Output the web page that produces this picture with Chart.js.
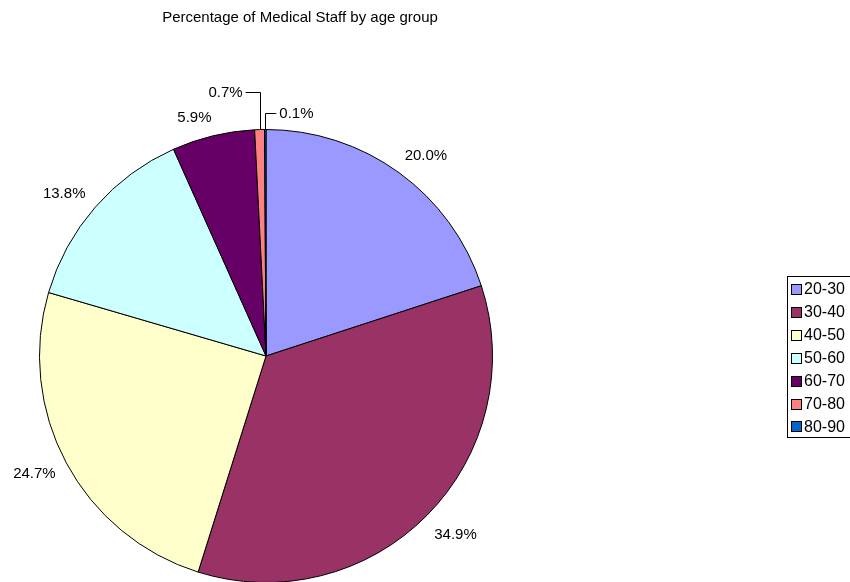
<!DOCTYPE html>
<html>
<head>
<meta charset="utf-8">
<script src="https://cdn.jsdelivr.net/npm/chart.js@4"></script>
<style>
  html, body { margin: 0; padding: 0; background: #fff; overflow: hidden; }
  #wrap { position: relative; width: 850px; height: 582px; overflow: hidden; }
  canvas { display: block; }
</style>
</head>
<body>
<div id="wrap"><canvas id="chart" width="850" height="620"></canvas></div>
<script>
// Age groups and their share of medical staff (percent)
const ageGroups = ['20-30', '30-40', '40-50', '50-60', '60-70', '70-80', '80-90'];
const staffShare = [20.0, 34.9, 24.7, 13.8, 5.9, 0.7, 0.1];
const sliceColors = ['#9999FF', '#993366', '#FFFFCC', '#CCFFFF', '#660066', '#FF8080', '#0066CC'];
const chartTitle = 'Percentage of Medical Staff by age group';

const FONT = '"Liberation Sans", Arial, sans-serif';

// Title, outside-end value labels (with leader lines for thin slices) and a boxed legend
const decorations = {
  id: 'decorations',
  afterDraw(chart, args, opts) {
    const ctx = chart.ctx;
    const meta = chart.getDatasetMeta(0);
    const values = chart.data.datasets[0].data;
    ctx.save();

    // title
    ctx.fillStyle = '#000';
    ctx.font = '15px ' + FONT;
    ctx.textAlign = 'center';
    ctx.textBaseline = 'middle';
    ctx.fillText(chartTitle, opts.titleX, opts.titleY);

    // value labels
    ctx.font = '15px ' + FONT;
    ctx.strokeStyle = '#000';
    ctx.lineWidth = 1;
    meta.data.forEach((arc, i) => {
      const text = values[i].toFixed(1) + '%';
      const mid = (arc.startAngle + arc.endAngle) / 2;
      const cx = arc.x, cy = arc.y, r = arc.outerRadius;
      const lead = opts.leaders[i];
      if (lead) {
        const x0 = cx + Math.cos(mid) * r;
        const y0 = cy + Math.sin(mid) * r;
        const y1 = y0 - lead.rise;
        const x1 = x0 + lead.run;
        ctx.beginPath();
        ctx.moveTo(Math.round(x0) + 0.5, y0);
        ctx.lineTo(Math.round(x0) + 0.5, Math.round(y1) + 0.5);
        ctx.lineTo(x1, Math.round(y1) + 0.5);
        ctx.stroke();
        ctx.textAlign = lead.run < 0 ? 'right' : 'left';
        ctx.textBaseline = 'middle';
        ctx.fillText(text, x1 + (lead.run < 0 ? -3 : 3), y1 + 1);
        return;
      }
      const hw = ctx.measureText(text).width / 2;
      const hh = 7;
      const s = Math.cos(mid), c = Math.sin(mid);
      const nudge = opts.nudges[i] || [0, 0];
      const x = cx + s * (r + opts.gap) + s * hw + nudge[0];
      const y = cy + c * (r + opts.gap) + c * hh + nudge[1];
      ctx.textAlign = 'center';
      ctx.textBaseline = 'middle';
      ctx.fillText(text, x, y);
    });

    // legend
    const lg = opts.legend;
    ctx.strokeStyle = '#000';
    ctx.strokeRect(lg.x + 0.5, lg.y + 0.5, lg.w, lg.h);
    ctx.font = '16px ' + FONT;
    ctx.textAlign = 'left';
    ctx.textBaseline = 'middle';
    chart.data.labels.forEach((lab, i) => {
      const yy = lg.firstY + i * lg.step;
      ctx.fillStyle = chart.data.datasets[0].backgroundColor[i];
      ctx.fillRect(lg.x + 4.5, Math.round(yy - 5) + 0.5, 10, 10);
      ctx.strokeRect(lg.x + 4.5, Math.round(yy - 5) + 0.5, 10, 10);
      ctx.fillStyle = '#000';
      ctx.fillText(lab, lg.x + 17, yy + 1);
    });
    ctx.restore();
  }
};

new Chart(document.getElementById('chart'), {
  type: 'pie',
  data: {
    labels: ageGroups,
    datasets: [{
      data: staffShare,
      backgroundColor: sliceColors,
      borderColor: '#000',
      borderWidth: 1,
      borderAlign: 'center'
    }]
  },
  plugins: [decorations],
  options: {
    responsive: false,
    animation: false,
    devicePixelRatio: 1,
    layout: { padding: { left: 39, top: 129, right: 357, bottom: 37 } },
    plugins: {
      legend: { display: false },
      tooltip: { enabled: false },
      title: { display: false },
      decorations: {
        titleX: 300,
        titleY: 18,
        gap: 16,
        nudges: { 0: [5, 2], 1: [2, 3], 2: [1, 0], 3: [-3, 2], 4: [-11, 4] },
        leaders: { 5: { rise: 38, run: -14 }, 6: { rise: 17, run: 11 } },
        legend: { x: 787, y: 276, w: 80, h: 161, firstY: 289, step: 22.9 }
      }
    }
  }
});
</script>
</body>
</html>
